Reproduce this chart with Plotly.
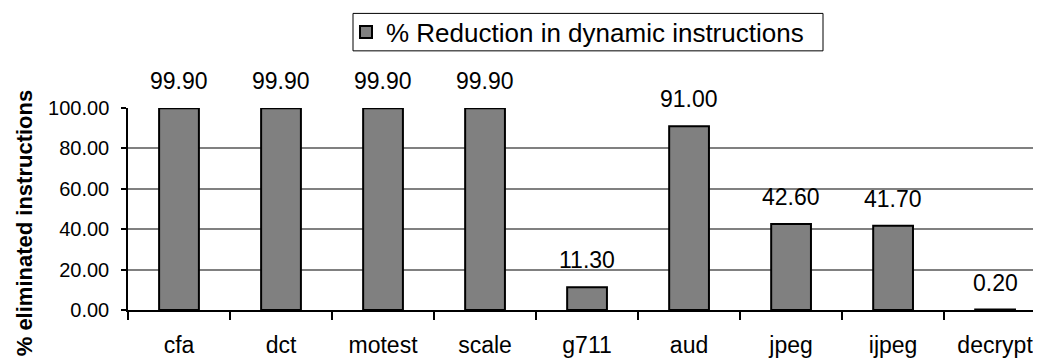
import plotly.graph_objects as go

categories = ["cfa", "dct", "motest", "scale", "g711", "aud", "jpeg", "ijpeg", "decrypt"]
reduction = [99.90, 99.90, 99.90, 99.90, 11.30, 91.00, 42.60, 41.70, 0.20]
series_name = "% Reduction in dynamic instructions"
y_title = "% eliminated instructions"
y_ticks = [0, 20, 40, 60, 80, 100]

FONT = "Liberation Sans, Arial, sans-serif"
OFF = 8  # page body margin
W, H = 1041 - OFF, 360 - OFF
L, R, T = 128 - OFF, 0, 105 - OFF
B = H - (310 - OFF)
PW = W - L - R
PH = H - T - B


def px(xp):  # page x -> paper
    return (xp - OFF - L) / PW


def py(yp):  # page y -> paper
    return (H - B - (yp - OFF)) / PH


fig = go.Figure()
fig.add_trace(go.Bar(
    x=categories, y=reduction, name=series_name,
    width=0.39,
    marker=dict(color="#808080", line=dict(color="#000000", width=2)),
    showlegend=True,
))

for c, v in zip(categories, reduction):
    fig.add_annotation(x=c, y=v, text=f"{v:.2f}", showarrow=False,
                       yanchor="middle", yshift=27,
                       font=dict(family=FONT, size=23, color="#000"))

fig.add_annotation(xref="paper", yref="paper",
                   x=px(24), y=py(222),
                   text=f"<b>{y_title}</b>", textangle=-90, showarrow=False,
                   xanchor="center", yanchor="middle",
                   font=dict(family=FONT, size=22, color="#000"))

fig.add_shape(type="rect", xref="paper", yref="paper",
              x0=px(353), x1=px(823), y0=py(47), y1=py(9),
              line=dict(color="#000", width=1), fillcolor="rgba(0,0,0,0)")

fig.update_layout(
    width=W, height=H,
    margin=dict(l=L, r=R, t=T, b=B, pad=0),
    plot_bgcolor="white", paper_bgcolor="white",
    font=dict(family=FONT, color="#000"),
    showlegend=True,
    legend=dict(x=px(346), y=py(28), xanchor="left", yanchor="middle",
                borderwidth=0, bgcolor="rgba(0,0,0,0)",
                font=dict(family=FONT, size=26, color="#000"),
                itemwidth=30),
    xaxis=dict(
        type="category", range=[-0.5, 8.45],
        showline=True, linecolor="#000", linewidth=1.5,
        ticks="outside", ticklen=8, tickcolor="#000", tickwidth=1.5,
        tickson="boundaries", showgrid=False,
        ticklabelstandoff=14,
        tickfont=dict(family=FONT, size=23, color="#000"),
    ),
    yaxis=dict(
        range=[0, 100], tickvals=y_ticks,
        ticktext=[f"{t:.2f}" for t in y_ticks],
        showline=True, linecolor="#000", linewidth=1.5,
        ticks="outside", ticklen=5, tickcolor="#000", tickwidth=1.5,
        showgrid=True, gridcolor="#808080", gridwidth=1.5,
        zeroline=False,
        ticklabelstandoff=8,
        tickfont=dict(family=FONT, size=20, color="#000"),
    ),
)

fig.write_html("out.html")
